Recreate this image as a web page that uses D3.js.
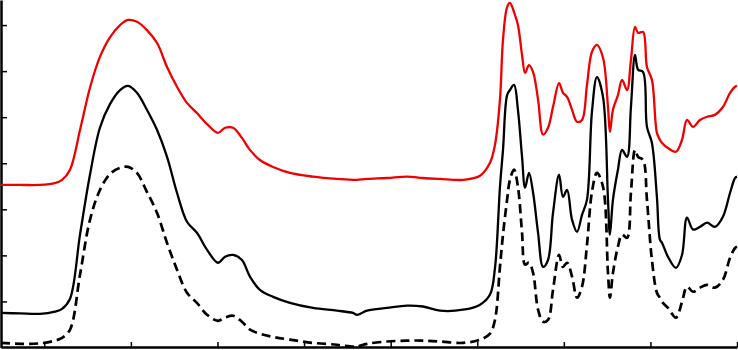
<!DOCTYPE html>
<html>
<head>
<meta charset="utf-8">
<script src="https://cdn.jsdelivr.net/npm/d3@7"></script>
<style>
  body { margin: 0; background: #fff; }
  svg { display: block; }
</style>
</head>
<body>
<div id="chart"></div>
<script>
// Wavenumbers (cm-1), shared by all three spectra
var wavenumber = [4000, 3912, 3820, 3751, 3718, 3681, 3635, 3589, 3543, 3496,
  3450, 3413, 3372, 3326, 3279, 3233, 3187, 3141, 3095, 3048,
  2998, 2965, 2928, 2887, 2850, 2804, 2743, 2665, 2559, 2448,
  2374, 2355, 2309, 2217, 2124, 2051, 1972, 1866, 1787, 1741,
  1718, 1695, 1681, 1662, 1649, 1630, 1612, 1593, 1579, 1561,
  1542, 1519, 1496, 1473, 1450, 1422, 1404, 1385, 1362, 1339,
  1316, 1293, 1270, 1247, 1219, 1196, 1187, 1173, 1150, 1131,
  1108, 1090, 1071, 1057, 1034, 1016, 993, 970, 956, 946,
  919, 882, 854, 831, 803, 771, 738, 702, 665, 632,
  609, 600];

// red solid spectrum (top)
var redSeries = [3.53, 3.53, 3.53, 3.57, 3.64, 3.86, 4.72, 5.64, 6.31, 6.74,
  7.00, 7.11, 7.07, 6.89, 6.61, 6.09, 5.66, 5.31, 5.09, 4.85,
  4.66, 4.77, 4.77, 4.55, 4.29, 4.07, 3.92, 3.79, 3.71, 3.66,
  3.64, 3.64, 3.66, 3.68, 3.71, 3.68, 3.66, 3.64, 3.73, 4.01,
  4.40, 5.38, 6.68, 7.39, 7.48, 7.28, 7.00, 6.35, 5.96, 6.13,
  5.98, 5.38, 4.62, 4.77, 5.22, 5.74, 5.53, 5.44, 5.16, 4.90,
  4.94, 5.70, 6.42, 6.57, 6.29, 5.22, 4.68, 5.16, 5.48, 5.81,
  5.59, 6.24, 6.96, 6.83, 6.85, 6.09, 5.81, 4.66, 4.51, 4.44,
  4.33, 4.25, 4.51, 4.94, 4.79, 4.94, 5.01, 5.05, 5.22, 5.53,
  5.66, 5.68];

// black solid spectrum (middle)
var blackSeries = [0.75, 0.74, 0.73, 0.78, 0.84, 1.06, 2.45, 3.75, 4.77, 5.29,
  5.59, 5.68, 5.53, 5.16, 4.72, 4.14, 3.36, 2.73, 2.49, 2.12,
  1.84, 1.97, 2.01, 1.90, 1.54, 1.25, 1.10, 0.97, 0.86, 0.80,
  0.75, 0.71, 0.80, 0.86, 0.91, 0.89, 0.80, 0.82, 0.93, 1.15,
  1.73, 3.49, 4.29, 5.48, 5.59, 5.70, 5.16, 4.14, 3.47, 3.79,
  3.36, 2.49, 1.75, 1.90, 2.92, 3.75, 3.27, 3.42, 2.77, 2.51,
  2.88, 3.21, 5.12, 5.87, 5.44, 3.21, 2.45, 3.21, 3.86, 4.29,
  4.14, 5.22, 6.35, 6.03, 5.98, 4.79, 4.44, 3.27, 2.34, 2.27,
  1.97, 1.73, 2.01, 2.82, 2.56, 2.62, 2.71, 2.62, 2.84, 3.36,
  3.68, 3.71];

// black dashed spectrum (bottom)
var dashedSeries = [0.10, 0.08, 0.09, 0.15, 0.21, 0.39, 1.58, 2.77, 3.42, 3.77,
  3.90, 3.92, 3.79, 3.38, 2.92, 2.27, 1.69, 1.19, 0.97, 0.71,
  0.58, 0.65, 0.69, 0.56, 0.39, 0.30, 0.23, 0.17, 0.10, 0.06,
  0.02, 0.02, 0.08, 0.13, 0.15, 0.15, 0.13, 0.10, 0.17, 0.30,
  0.60, 1.75, 2.45, 3.21, 3.64, 3.86, 3.49, 2.49, 1.80, 1.84,
  1.62, 0.82, 0.56, 0.60, 1.25, 2.01, 1.75, 1.84, 1.54, 1.08,
  1.32, 2.23, 3.38, 3.79, 3.49, 1.62, 1.08, 1.62, 2.19, 2.45,
  2.38, 3.36, 4.29, 4.14, 4.07, 3.21, 1.90, 1.19, 1.08, 0.99,
  0.86, 0.65, 0.99, 1.32, 1.21, 1.30, 1.36, 1.30, 1.47, 1.95,
  2.16, 2.19];

var xTicks = [3800, 3400, 3000, 2600, 2200, 1800, 1400, 1000, 600];
var yTicks = [1, 2, 3, 4, 5, 6, 7];

var width = 738, height = 350;

var svg = d3.select("#chart")
    .append("svg")
    .attr("width", width)
    .attr("height", height);

// x runs from high to low wavenumber
var x = d3.scaleLinear()
    .domain([4000, 600])
    .range([1, 737]);

var y = d3.scaleLinear()
    .domain([0, 7.544])
    .range([347.5, 0]);

// axes: inward ticks, no labels
svg.append("g")
    .attr("transform", "translate(0,347)")
    .call(d3.axisBottom(x).tickValues(xTicks).tickSizeInner(-5).tickSizeOuter(0).tickFormat(""));

svg.append("g")
    .attr("transform", "translate(1,0)")
    .call(d3.axisLeft(y).tickValues(yTicks).tickSizeInner(-6).tickSizeOuter(0).tickFormat(""));

svg.selectAll(".domain").attr("stroke", "#000").attr("stroke-width", 2.5);
svg.selectAll(".tick line").attr("stroke", "#000").attr("stroke-width", 1.5);

var line = function (values) {
    return d3.line()
        .x(function (d, i) { return x(wavenumber[i]); })
        .y(function (d) { return y(d); })
        .curve(d3.curveCatmullRom.alpha(0.5))(values);
};

svg.append("path")
    .attr("d", line(redSeries))
    .attr("fill", "none")
    .attr("stroke", "#f00000")
    .attr("stroke-width", 2.3);

svg.append("path")
    .attr("d", line(blackSeries))
    .attr("fill", "none")
    .attr("stroke", "#000")
    .attr("stroke-width", 2.3);

svg.append("path")
    .attr("d", line(dashedSeries))
    .attr("fill", "none")
    .attr("stroke", "#000")
    .attr("stroke-width", 2.7)
    .attr("stroke-dasharray", "9,5");
</script>
</body>
</html>
